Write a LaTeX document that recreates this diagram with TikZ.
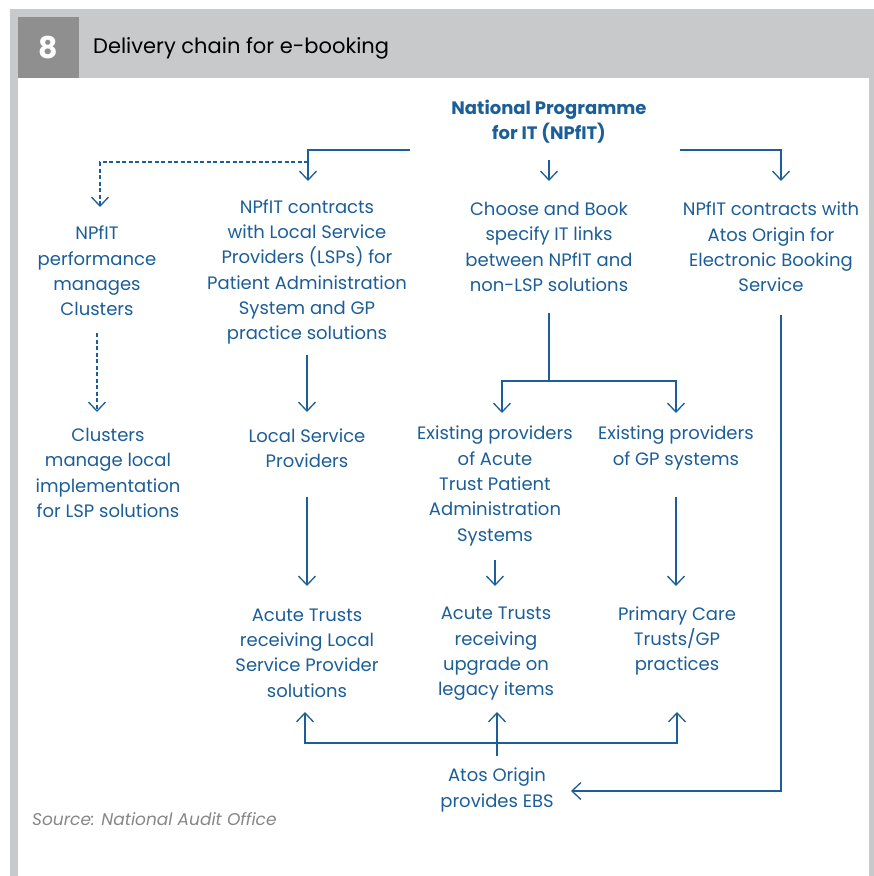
\documentclass[tikz,border=0pt]{standalone}
\usepackage{fontspec}
\setmainfont{Poppins}
\usetikzlibrary{arrows.meta}
\definecolor{nblue}{RGB}{28,94,152}
\definecolor{band}{RGB}{200,201,203}
\definecolor{numbox}{RGB}{143,143,144}
\definecolor{srcgray}{RGB}{135,135,135}
\begin{document}
\begin{tikzpicture}[x=1pt,y=-1pt,
  txt/.style={text=nblue,align=center,inner sep=0pt,font=\fontsize{18}{25.3}\selectfont},
  ln/.style={draw=nblue,line width=1.3pt},
  arr/.style={ln,-{Straight Barb[length=9pt,width=17pt,line width=1.3pt]}},
  dsh/.style={dash pattern=on 4pt off 2.5pt}]
\useasboundingbox (0,0) rectangle (874,876);
\fill[white] (0,0) rectangle (874,876);
\fill[band] (10,9) rectangle (874,78);
\fill[band] (10,78) rectangle (18,876);
\fill[band] (869,78) rectangle (874,876);
\fill[numbox] (18,17) rectangle (79,78);
\node[inner sep=0pt,text=white,font=\fontsize{30}{31}\selectfont\bfseries] (num) at (48.5,48) {8};
\node[inner sep=0pt,anchor=west,font=\fontsize{21}{24}\selectfont] (title) at (93,48) {Delivery chain for e-booking};

\node[txt,font=\fontsize{18}{25.3}\selectfont\bfseries] (nat) at (549,122) {National Programme\\for IT (NPfIT)};
\node[txt] (perf) at (97,271) {NPfIT\\performance\\manages\\Clusters};
\node[txt] (lspc) at (307,272) {NPfIT contracts\\with Local Service\\Providers (LSPs) for\\Patient Administration\\System and GP\\practice solutions};
\node[txt] (cab) at (549,247) {Choose and Book\\specify IT links\\between NPfIT and\\non-LSP solutions};
\node[txt] (atosc) at (771,247) {NPfIT contracts with\\Atos Origin for\\Electronic Booking\\Service};
\node[txt] (clus) at (108,473) {Clusters\\manage local\\implementation\\for LSP solutions};
\node[txt] (lsp) at (307,448) {Local Service\\Providers};
\node[txt] (acp) at (495,486) {Existing providers\\of Acute\\Trust Patient\\Administration\\Systems};
\node[txt] (gpp) at (676,448) {Existing providers\\of GP systems};
\node[txt] (atl) at (307,653) {Acute Trusts\\receiving Local\\Service Provider\\solutions};
\node[txt] (atu) at (496,654) {Acute Trusts\\receiving\\upgrade on\\legacy items};
\node[txt] (pct) at (677,641) {Primary Care\\Trusts/GP\\practices};
\node[txt] (ebs) at (497,790) {Atos Origin\\provides EBS};
\node[inner sep=0pt,anchor=base west,text=srcgray,font=\fontsize{17}{20}\selectfont\itshape] (src) at (32,825) {Source: National Audit Office};

% coordinates
\coordinate (n1) at (410,150);
\coordinate (n2) at (308,150);
\coordinate (n3) at (308,162);
\coordinate (n4) at (100,162);
\coordinate (n5) at (680,150);
\coordinate (n6) at (781,150);
\coordinate (c1) at (549,313);
\coordinate (c2) at (549,381);
\coordinate (c3) at (502,381);
\coordinate (c4) at (676,381);
\coordinate (r1) at (781,315);
\coordinate (r2) at (781,791);
\coordinate (b1) at (497,756);
\coordinate (b2) at (497,743);
\coordinate (b3) at (305,743);
\coordinate (b4) at (677,743);

% top connectors
\draw[arr] (n1) -- (n2) -- (308,181);
\draw[arr,dsh] (n3) -- (n4) -- (100,207);
\draw[arr] (549,160) -- (549,181);
\draw[arr] (n5) -- (n6) -- (781,181);
% second row
\draw[arr,dsh] (97,333) -- (97,412);
\draw[arr] (307,355) -- (307,412);
\draw[ln] (c1) -- (c2);
\draw[arr] (c2) -- (c3) -- (502,413);
\draw[arr] (c2) -- (c4) -- (676,413);
% third row
\draw[arr] (307,497) -- (307,586);
\draw[arr] (495,560) -- (495,586);
\draw[arr] (676,497) -- (676,586);
% bottom
\draw[arr] (b1) -- (b2) -- (497,712);
\draw[arr] (b2) -- (b3) -- (305,712);
\draw[arr] (b2) -- (b4) -- (677,712);
\draw[arr] (r1) -- (r2) -- (571,791);
\end{tikzpicture}
\end{document}
